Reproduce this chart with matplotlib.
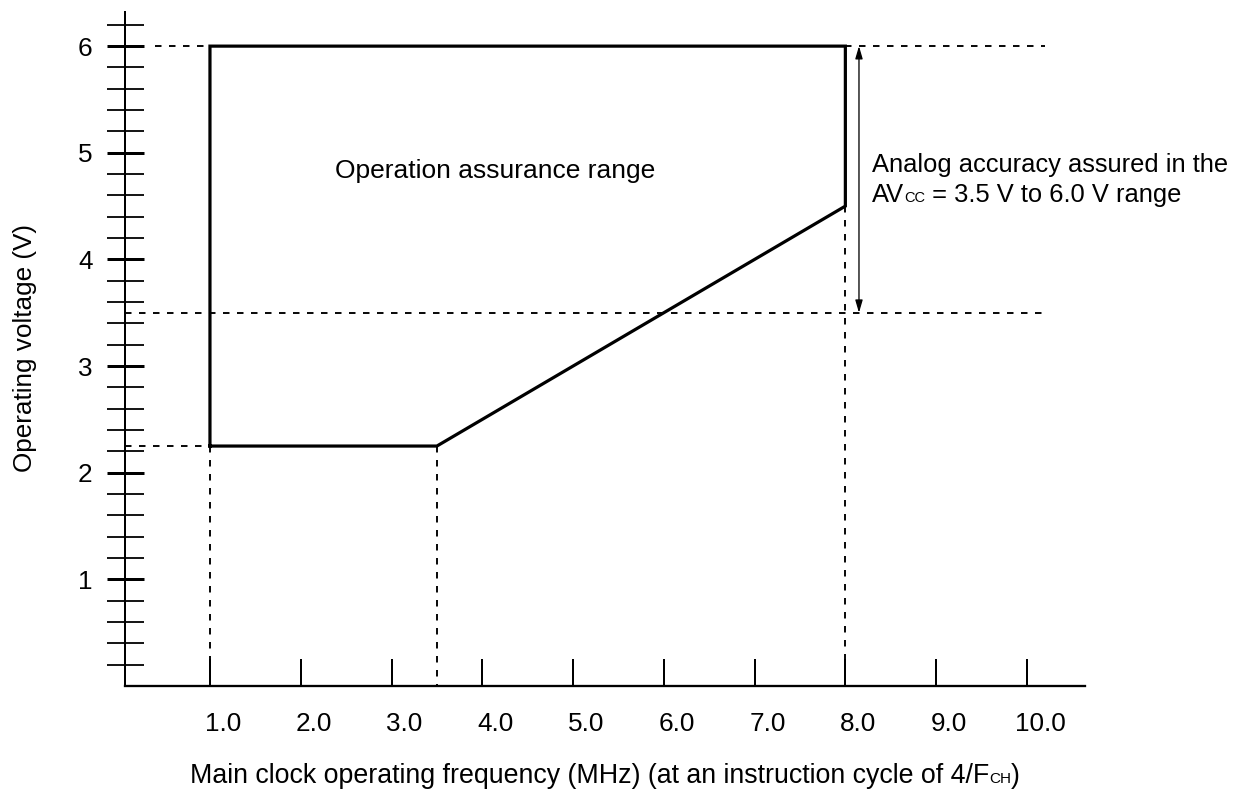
import matplotlib
matplotlib.use("Agg")
import matplotlib.pyplot as plt
from matplotlib.transforms import ScaledTranslation
import numpy as np

plt.rcParams['font.family'] = ['Liberation Sans', 'DejaVu Sans']
plt.rcParams['lines.scale_dashes'] = False

# ---- data ----
region_x = [1.0, 1.0, 8.0, 8.0, 3.5, 1.0]          # MHz
region_y = [2.25, 6.0, 6.0, 4.5, 2.25, 2.25]       # V
x_ticks = [1, 2, 3, 4, 5, 6, 7, 8, 9, 10]
x_tick_labels = ["1.0", "2.0", "3.0", "4.0", "5.0", "6.0", "7.0", "8.0", "9.0", "10.0"]
y_major = [1, 2, 3, 4, 5, 6]
y_major_labels = ["1", "2", "3", "4", "5", "6"]
y_minor = [0.2, 0.4, 0.6, 0.8, 1.2, 1.4, 1.6, 1.8, 2.2, 2.4, 2.6, 2.8,
           3.2, 3.4, 3.6, 3.8, 4.2, 4.4, 4.6, 4.8, 5.2, 5.4, 5.6, 5.8, 6.2]
# guide lines: horizontal (y, x_start, x_end) and vertical (x, y_start, y_end)
h_guides = [(6.0, 0.39, 1.0), (6.0, 8.0, 10.2), (3.5, 0.064, 10.2), (2.25, 0.064, 1.0)]
v_guides = [(1.0, 2.25, 0.0), (3.5, 2.25, 0.0), (8.0, 4.5, 0.0)]
analog_range = (3.5, 6.0)
analog_x = 8.15

FS = 18.8
SUB = 10.5
px = 0.72  # points per pixel at 100 dpi

fig = plt.figure(figsize=(12.47, 7.92), dpi=100)
ax = fig.add_axes([125/1247, (792-686)/792, (1085-125)/1247, (686-12)/792])
ax.set_xlim(0.064, 10.64)
ax.set_ylim(0, 6.32)

for s in ['top', 'right']:
    ax.spines[s].set_visible(False)
ax.spines['left'].set_linewidth(2.0*px)
ax.spines['bottom'].set_linewidth(2.3*px)

# x ticks
ax.set_xticks(x_ticks)
ax.set_xticklabels(x_tick_labels, fontsize=FS)
ax.tick_params(axis='x', direction='in', length=27*px, width=2.0*px, pad=19.0)
off = ScaledTranslation(13/100, 0, fig.dpi_scale_trans)
for lab in ax.get_xticklabels():
    lab.set_transform(lab.get_transform() + off)

# y ticks
ax.set_yticks(y_major)
ax.set_yticklabels(y_major_labels, fontsize=FS)
ax.set_yticks(y_minor, minor=True)
ax.tick_params(axis='y', which='major', direction='inout', length=37*px, width=3.0*px, pad=10)
ax.tick_params(axis='y', which='minor', direction='inout', length=37*px, width=1.8*px)

# guide lines
for (y, x0, x1) in h_guides:
    ax.plot([x0, x1], [y, y], color='black', lw=1.9*px, dashes=(6.5*px, 7.5*px), clip_on=False)
for (x, y0, y1) in v_guides:
    ax.plot([x, x], [y0, y1], color='black', lw=1.9*px, dashes=(6.5*px, 7.5*px), clip_on=False)

# region outline
ax.plot(region_x, region_y, color='black', lw=3.2*px, solid_joinstyle='miter', solid_capstyle='projecting')

# analog arrow
ax.annotate('', xy=(analog_x, analog_range[0]), xytext=(analog_x, analog_range[1]),
            arrowprops=dict(arrowstyle='<|-|>,head_length=0.75,head_width=0.22', mutation_scale=10,
                            lw=1.3*px, color='black', shrinkA=0, shrinkB=0))

# texts
ax.text(4.14, 4.763, "Operation assurance range", fontsize=19.0, ha='center', va='baseline')

AFS = 18.4
ax.text(8.293, 4.819, "Analog accuracy assured in the", fontsize=AFS, ha='left', va='baseline')
t1 = ax.text(8.293, 4.538, "AV", fontsize=AFS, ha='left', va='baseline')
t2 = ax.annotate("CC", xy=(1, 4.538), xycoords=(t1, 'data'), fontsize=SUB, ha='left', va='baseline')
ax.annotate(" = 3.5 V to 6.0 V range", xy=(1, 4.538), xycoords=(t2, 'data'), fontsize=AFS,
            ha='left', va='baseline')

# x label (in pieces for the small-caps CH)
XFS = 19.3
xl_y = -0.909
a1 = ax.text(0.78, xl_y, "Main clock operating frequency (MHz) (at an instruction cycle of 4/F",
             fontsize=XFS, ha='left', va='baseline', clip_on=False)
a2 = ax.annotate("CH", xy=(1, xl_y), xycoords=(a1, 'data'), fontsize=11, ha='left', va='baseline',
                 annotation_clip=False)
ax.annotate(")", xy=(1, xl_y), xycoords=(a2, 'data'), fontsize=XFS, ha='left', va='baseline',
            annotation_clip=False)

# y label
ax.text((32-125)/960, (686-348)/674, "Operating voltage (V)", fontsize=FS, rotation=90,
        rotation_mode='anchor', ha='center', va='baseline', transform=ax.transAxes)

fig.savefig("out.png", dpi=100)
